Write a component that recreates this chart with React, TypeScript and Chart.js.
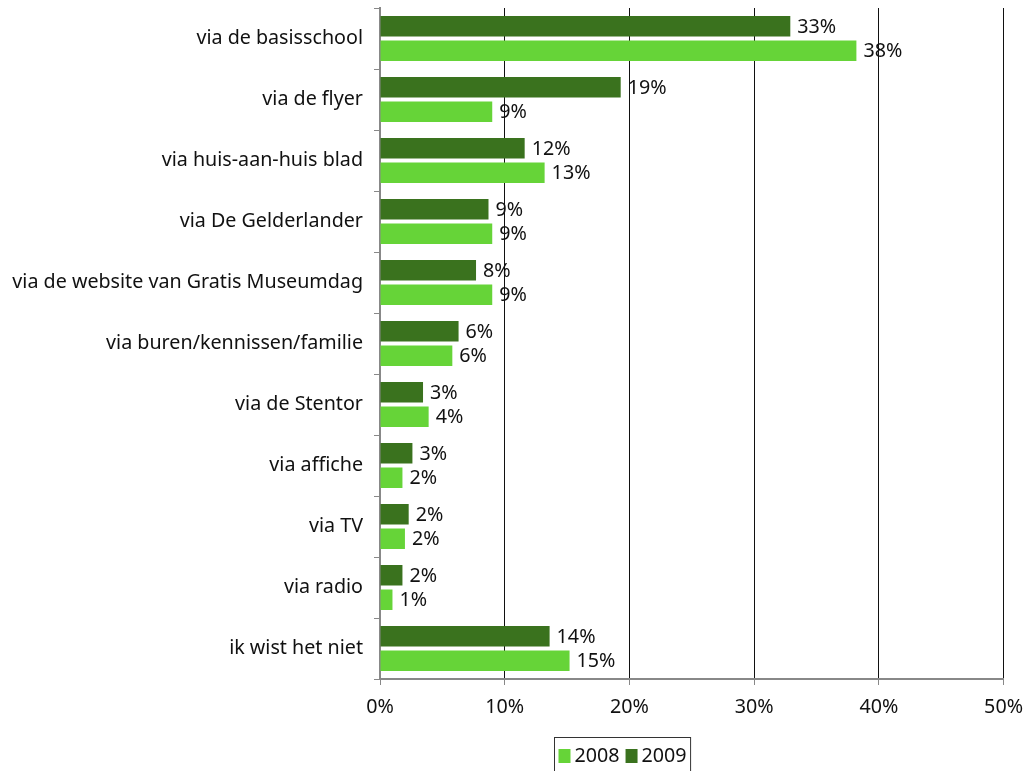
import React, { useEffect, useRef } from "react";
import { Chart, registerables } from "chart.js";

Chart.register(...registerables);

const categories = [
  "via de basisschool",
  "via de flyer",
  "via huis-aan-huis blad",
  "via De Gelderlander",
  "via de website van Gratis Museumdag",
  "via buren/kennissen/familie",
  "via de Stentor",
  "via affiche",
  "via TV",
  "via radio",
  "ik wist het niet",
];
const values2009 = [32.9, 19.3, 11.6, 8.7, 7.7, 6.3, 3.45, 2.6, 2.3, 1.8, 13.6];
const values2008 = [38.2, 9.0, 13.2, 9.0, 9.0, 5.8, 3.9, 1.8, 2.0, 1.0, 15.2];
const seriesNames = ["2009", "2008"];
const seriesColors = ["#3a721e", "#66d438"];
const xMin = 0;
const xMax = 50;
const xStep = 10;

const FONT = "'Noto Sans'";
const FSIZE = 19.7;

const valueLabels = {
  id: "valueLabels",
  afterDatasetsDraw(chart: any) {
    const ctx = chart.ctx;
    ctx.save();
    ctx.font = `${FSIZE}px ${FONT}`;
    ctx.fillStyle = "#111";
    ctx.textAlign = "left";
    ctx.textBaseline = "middle";
    chart.data.datasets.forEach((ds: any, di: number) => {
      const meta = chart.getDatasetMeta(di);
      meta.data.forEach((el: any, i: number) => {
        ctx.fillText(Math.round(ds.data[i]) + "%", el.x + 7, el.y + 1);
      });
    });
    ctx.restore();
  },
};

const customLegend = {
  id: "customLegend",
  afterDraw(chart: any) {
    const ctx = chart.ctx;
    ctx.save();
    ctx.font = `${FSIZE}px ${FONT}`;
    const items = [1, 0].map((i) => ({ name: seriesNames[i], color: seriesColors[i] }));
    const sq = 12;
    const gapSqText = 4;
    const gapItems = 6;
    const padX = 4;
    let w = padX * 2;
    items.forEach((it, k) => {
      w += sq + gapSqText + ctx.measureText(it.name).width + (k < items.length - 1 ? gapItems : 0);
    });
    const cx = 622;
    const left = Math.round(cx - w / 2) + 0.5;
    const top = 737.5;
    const h = 40;
    ctx.strokeStyle = "#333";
    ctx.lineWidth = 1;
    ctx.strokeRect(left, top, w, h);
    let x = left + padX;
    const cy = 755;
    ctx.textBaseline = "middle";
    ctx.textAlign = "left";
    items.forEach((it) => {
      ctx.fillStyle = it.color;
      ctx.fillRect(x, cy - sq / 2, sq, sq + 2);
      x += sq + gapSqText;
      ctx.fillStyle = "#111";
      ctx.fillText(it.name, x, cy + 1);
      x += ctx.measureText(it.name).width + gapItems;
    });
    ctx.restore();
  },
};

export default function App() {
  const ref = useRef<HTMLCanvasElement>(null);
  useEffect(() => {
    const chart = new Chart(ref.current as HTMLCanvasElement, {
      type: "bar",
      data: {
        labels: categories,
        datasets: [
          {
            label: seriesNames[0],
            data: values2009,
            backgroundColor: seriesColors[0],
            categoryPercentage: 0.8,
            barPercentage: 0.84,
          },
          {
            label: seriesNames[1],
            data: values2008,
            backgroundColor: seriesColors[1],
            categoryPercentage: 0.8,
            barPercentage: 0.84,
          },
        ],
      },
      options: {
        indexAxis: "y",
        animation: false,
        responsive: false,
        layout: { padding: { top: 8, right: 27, bottom: 50, left: 0 } },
        plugins: {
          legend: { display: false },
          tooltip: { enabled: false },
        },
        scales: {
          x: {
            min: xMin,
            max: xMax,
            ticks: {
              stepSize: xStep,
              color: "#111",
              font: { family: FONT, size: FSIZE },
              padding: 11,
              callback: (v: any) => v + "%",
            },
            grid: {
              color: "#111",
              lineWidth: 1,
              tickLength: 6,
              tickColor: "#888",
            },
            border: { color: "#888", width: 2 },
            afterFit: (s: any) => {
              s.height = 42;
            },
          },
          y: {
            ticks: {
              color: "#111",
              font: { family: FONT, size: FSIZE },
              padding: 11,
              autoSkip: false,
            },
            grid: {
              drawOnChartArea: false,
              drawTicks: true,
              tickLength: 6,
              offset: true,
              color: "#888",
            },
            border: { color: "#888", width: 2 },
            afterFit: (s: any) => {
              s.width = 380;
              s.paddingTop = 0;
              s.paddingBottom = 0;
            },
          },
        },
      },
      plugins: [valueLabels, customLegend],
    });
    return () => chart.destroy();
  }, []);
  return (
    <div style={{ position: "fixed", left: 0, top: 0, width: 1034, height: 771, background: "#fff" }}>
      <canvas ref={ref} width={1034} height={771} />
    </div>
  );
}
